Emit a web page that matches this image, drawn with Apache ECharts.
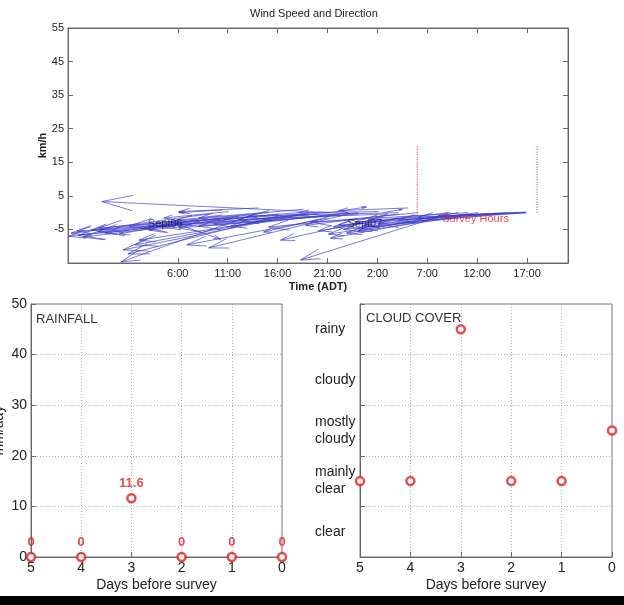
<!DOCTYPE html>
<html>
<head>
<meta charset="utf-8">
<script src="https://cdn.jsdelivr.net/npm/echarts@6/dist/echarts.min.js"></script>
<style>
  html, body { margin: 0; padding: 0; background: #fff; }
  #chart { width: 624px; height: 605px; }
</style>
</head>
<body>
<div id="chart"></div>
<script>
// wind arrows: tail (time in hours from Sept06 0:00, km/h) -> head
const windTailT = [21.3, 10.5, 12.1, 9.1, 7.1, 13.1, 19.2, 13.7, 16.1, 18.1, 21.1, 20.1, 22.1, 17.1, 24.1, 21.1, 23.1, 10.5, 5.3, 26.6, 32.1, 30.1, 30.1, 34.1, 36.1, 38.1, 40.9, 40.9, 40.1, 40.9, 40.9, 32.1, 21.3, 26.6, 14.1, 26.1, 28.1, 15.1, 18.1, 6.1, 14.1, 28.1, 23.1, 30.1, 35.1,
  16.1, 12.1, 19.1, 24.1, 27.1, 33.1, 36.1, 39.1, 37.1, 11.1, 18.6, 29.1, 34.1, 20.1, 8.1]
const windTailV = [0.0, -0.7, -1.6, -0.4, -2.8, -0.7, 0.0, -0.4, -1.0, -0.4, 0.0, -0.4, -0.7, -1.0, -0.4, -1.6, -0.4, 0.8, -2.8, -1.3, -1.3, -2.8, -0.7, -1.3, -0.4, -0.4, 0.0, 0.0, 0.0, 0.0, 0.2, -1.6, 0.0, 0.0, 1.4, 0.3, 0.0, 0.0, 0.0, -3.4, -2.8, -0.4, 0.0, 0.0, 0.0,
  -0.4, -1.0, -0.7, 0.0, -0.4, 0.0, 0.0, 0.0, -0.2, 0.3, 1.0, 1.4, 0.0, -2.0, -2.0]
const windHeadT = [-1.6, -4.7, -3.5, -2.7, -4.9, -1.3, 0.5, 0.3, 1.0, 1.7, 5.3, 4.1, 6.1, 3.1, 8.1, 6.9, 9.1, 6.1, 10.3, 16.3, 18.3, 21.3, 20.1, 22.9, 22.1, 24.1, 23.7, 26.1, 28.1, 30.1, 32.1, 21.1, 24.9, 28.5, 6.1, 18.1, 13.1, -1.9, 1.1, -4.1, 2.1, 18.8, 11.3, 15.1, 19.3,
  -4.0, -2.0, 2.6, 9.6, 12.1, 21.6, 24.6, 25.1, 22.6, 4.6, 8.1, 22.1, 24.1, 14.6, 0.1]
const windHeadV = [3.3, -6.1, -7.3, -5.2, -7.0, -6.1, -11.1, -14.7, -12.3, -9.6, -2.8, -4.0, -4.6, -5.2, -4.0, -9.6, -10.5, 0.0, -7.9, -8.2, -14.1, -7.6, -5.4, -6.1, -3.7, -4.6, -2.8, -3.4, -2.2, -1.3, -1.0, -6.4, 1.7, 1.0, 0.3, 0.0, -1.0, -4.6, -4.0, -5.5, -8.2, -3.8, -4.0, -4.3, -2.8,
  -6.8, -5.6, -4.6, -3.4, -2.0, -4.2, -3.8, -2.2, -5.0, -1.6, -1.6, 0.6, -5.4, -5.8, -6.4]

const timeTicks = [6, 11, 16, 21, 26, 31, 36, 41]
const speedTicks = [-5, 5, 15, 25, 35, 45, 55]
const surveyStart = 30, surveyEnd = 42, surveyTop = 20
const dayLabelT = [3, 23]
const dayLabelV = [-3.3, -3.3]
const dayLabelText = ['Sept06', 'Sept07']

const days = [5, 4, 3, 2, 1, 0]
const rainfall = [0, 0, 11.6, 0, 0, 0]
const cloudLevels = ['clear', 'mainly\nclear', 'mostly\ncloudy', 'cloudy', 'rainy']
const cloudCover = [1.5, 1.5, 4.5, 1.5, 1.5, 2.5]   // band centre of level

const FONT = '"Liberation Sans", Arial, sans-serif'
const RED = '#dd2020'
const chart = echarts.init(document.getElementById('chart'))

const arrowData = windTailT.map((t, i) => [t, windTailV[i], windHeadT[i], windHeadV[i]])

function renderArrow(params, api) {
  const p0 = api.coord([api.value(0), api.value(1)])
  const p1 = api.coord([api.value(2), api.value(3)])
  const dx = p1[0] - p0[0], dy = p1[1] - p0[1]
  const len = Math.sqrt(dx * dx + dy * dy) || 1
  const ux = dx / len, uy = dy / len
  const L = Math.min(Math.max(len * 0.14, 4), 32)
  const a = 14 * Math.PI / 180
  const barb = s => {
    const c = Math.cos(s * a), sn = Math.sin(s * a)
    const rx = ux * c - uy * sn, ry = ux * sn + uy * c
    return [p1[0] - L * rx, p1[1] - L * ry]
  }
  const style = { stroke: '#3a3ac8', lineWidth: 0.9, opacity: 0.75, fill: null }
  return {
    type: 'group',
    children: [
      { type: 'polyline', shape: { points: [p0, p1] }, style: style },
      { type: 'polyline', shape: { points: [barb(1), p1, barb(-1)] }, style: style }
    ]
  }
}

const axisLine = { show: true, onZero: false, lineStyle: { color: '#666' } }
const tickIn = { show: true, inside: true, length: 5, lineStyle: { color: '#666' } }
const lbl = (size) => ({ color: '#222', fontSize: size, fontFamily: FONT })
const dotted = { show: true, lineStyle: { type: [1, 2], color: '#b0b0b0' } }
const box = { show: true, borderColor: '#777', borderWidth: 1, containLabel: false, outerBoundsMode: 'none' }

chart.setOption({
  animation: false,
  backgroundColor: '#fff',
  grid: [
    Object.assign({ left: 68, top: 28, width: 500, height: 235 }, box),
    Object.assign({ left: 31, top: 304, width: 251, height: 253 }, box),
    Object.assign({ left: 360, top: 304, width: 252, height: 253 }, box)
  ],
  graphic: [
    { type: 'text', left: 250, top: 8, style: { text: 'Wind Speed and Direction', fontSize: 11, fontFamily: FONT, fill: '#222' } },
    { type: 'text', left: 36, top: 313, style: { text: 'RAINFALL', fontSize: 13, fontFamily: FONT, fill: '#333' } },
    { type: 'text', left: 366, top: 312, style: { text: 'CLOUD COVER', fontSize: 13, fontFamily: FONT, fill: '#333' } },
    { type: 'rect', left: 0, top: 596, shape: { width: 624, height: 9 }, style: { fill: '#000' } }
  ],
  xAxis: [
    {
      gridIndex: 0, type: 'value', min: -5, max: 45.1,
      name: 'Time (ADT)', nameLocation: 'middle', nameGap: 18, nameMoveOverlap: false,
      nameTextStyle: { fontSize: 11, fontWeight: 'bold', fontFamily: FONT, color: '#222' },
      axisLine: axisLine, splitLine: { show: false },
      axisTick: Object.assign({ customValues: timeTicks }, tickIn),
      axisLabel: Object.assign({ customValues: timeTicks, margin: 5, formatter: v => (Math.round(v) % 24) + ':00' }, lbl(11))
    },
    {
      gridIndex: 0, type: 'value', position: 'top', min: -5, max: 45.1,
      axisLine: axisLine, splitLine: { show: false },
      axisTick: Object.assign({ customValues: timeTicks }, tickIn),
      axisLabel: { show: false }
    },
    {
      gridIndex: 1, type: 'value', min: 0, max: 5, interval: 1, inverse: true,
      name: 'Days before survey', nameLocation: 'middle', nameGap: 21, nameMoveOverlap: false,
      nameTextStyle: { fontSize: 14, fontFamily: FONT, color: '#222' },
      axisLine: axisLine, axisTick: tickIn, splitLine: dotted,
      axisLabel: Object.assign({ margin: 4 }, lbl(14))
    },
    {
      gridIndex: 2, type: 'value', min: 0, max: 5, interval: 1, inverse: true,
      name: 'Days before survey', nameLocation: 'middle', nameGap: 21, nameMoveOverlap: false,
      nameTextStyle: { fontSize: 14, fontFamily: FONT, color: '#222' },
      axisLine: axisLine, axisTick: tickIn, splitLine: dotted,
      axisLabel: Object.assign({ margin: 4 }, lbl(14))
    }
  ],
  yAxis: [
    {
      gridIndex: 0, type: 'value', min: -15, max: 55,
      name: 'km/h', nameLocation: 'middle', nameGap: 20, nameMoveOverlap: false,
      nameTextStyle: { fontSize: 11, fontWeight: 'bold', fontFamily: FONT, color: '#222' },
      axisLine: axisLine, splitLine: { show: false },
      axisTick: Object.assign({ customValues: speedTicks }, tickIn),
      axisLabel: Object.assign({ customValues: speedTicks, margin: 4 }, lbl(11))
    },
    {
      gridIndex: 0, type: 'value', position: 'right', min: -15, max: 55,
      axisLine: axisLine, splitLine: { show: false },
      axisTick: Object.assign({ customValues: speedTicks }, tickIn),
      axisLabel: { show: false }
    },
    {
      gridIndex: 1, type: 'value', min: 0, max: 50, interval: 10,
      name: 'mm/day', nameLocation: 'middle', nameGap: 25, nameMoveOverlap: false,
      nameTextStyle: { fontSize: 14, fontFamily: FONT, color: '#222' },
      axisLine: axisLine, axisTick: tickIn, splitLine: dotted,
      axisLabel: Object.assign({ margin: 4 }, lbl(14))
    },
    {
      gridIndex: 2, type: 'value', min: 0, max: 5, interval: 1,
      axisLine: axisLine, axisTick: tickIn, splitLine: dotted,
      axisLabel: Object.assign({
        customValues: [0.5, 1.5, 2.5, 3.5, 4.5], align: 'left', margin: 45, lineHeight: 17,
        formatter: v => cloudLevels[Math.floor(v)]
      }, lbl(14))
    }
  ],
  series: [
    {
      type: 'custom', xAxisIndex: 0, yAxisIndex: 0,
      renderItem: renderArrow, data: arrowData, clip: true
    },
    {
      type: 'line', xAxisIndex: 0, yAxisIndex: 0, symbol: 'none',
      lineStyle: { color: RED, width: 1, type: [1, 1.5] },
      data: [[surveyStart, 0], [surveyStart, surveyTop]]
    },
    {
      type: 'line', xAxisIndex: 0, yAxisIndex: 0, symbol: 'none',
      lineStyle: { color: RED, width: 1, type: [1, 1.5] },
      data: [[surveyEnd, 0], [surveyEnd, surveyTop]]
    },
    {
      type: 'scatter', xAxisIndex: 0, yAxisIndex: 0, symbolSize: 0, z: 5,
      label: { show: true, position: 'right', distance: 0, formatter: p => dayLabelText[p.dataIndex], color: '#1a1a40', fontSize: 11, fontFamily: FONT },
      data: dayLabelT.map((t, i) => [t, dayLabelV[i]])
    },
    {
      type: 'scatter', xAxisIndex: 0, yAxisIndex: 0, symbolSize: 0, z: 5,
      label: { show: true, position: 'right', distance: 0, formatter: 'Survey Hours', color: RED, fontSize: 11, fontFamily: FONT },
      data: [[surveyStart + 2.5, -2]]
    },
    {
      type: 'scatter', xAxisIndex: 2, yAxisIndex: 2, clip: false,
      symbol: 'circle', symbolSize: 8,
      itemStyle: { color: '#fff', borderColor: RED, borderWidth: 2.5 },
      label: { show: true, position: 'top', distance: 3, color: RED, fontSize: 13, fontWeight: 'bold', fontFamily: FONT },
      data: days.map((d, i) => [d, rainfall[i]])
    },
    {
      type: 'scatter', xAxisIndex: 3, yAxisIndex: 3, clip: false,
      symbol: 'circle', symbolSize: 8,
      itemStyle: { color: '#fff', borderColor: RED, borderWidth: 2.5 },
      data: days.map((d, i) => [d, cloudCover[i]])
    }
  ]
})
</script>
</body>
</html>
